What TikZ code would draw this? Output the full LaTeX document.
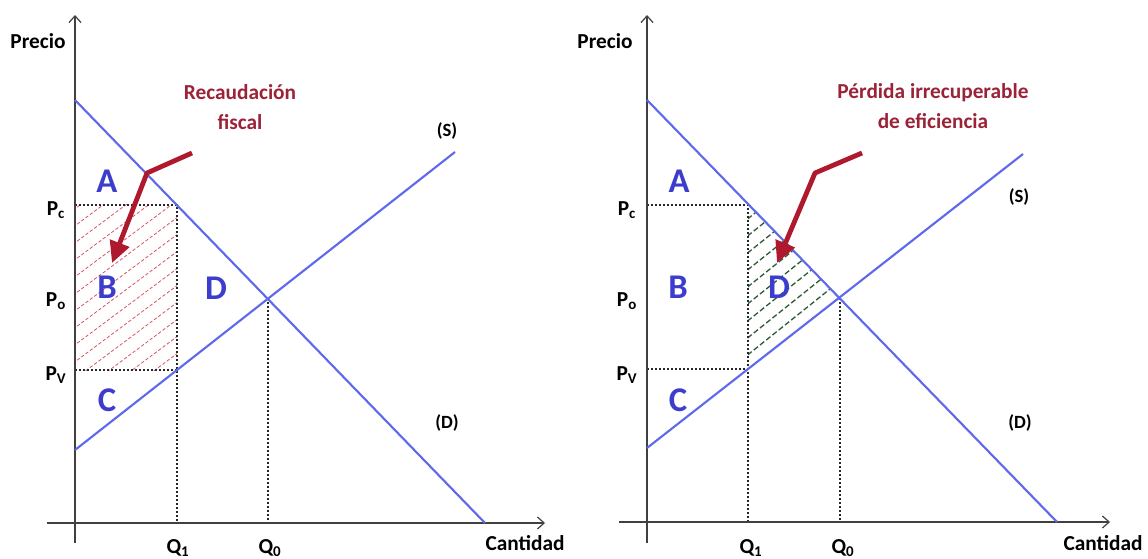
\documentclass[tikz,border=0pt]{standalone}
\usepackage{fontspec}
\setmainfont{Carlito}
\usetikzlibrary{arrows.meta}
\definecolor{lineblue}{RGB}{95,105,235}
\definecolor{letterblue}{RGB}{60,60,205}
\definecolor{notered}{RGB}{155,35,55}
\definecolor{arrowred}{RGB}{175,25,45}
\definecolor{hatchred}{RGB}{215,85,100}
\definecolor{hatchgreen}{RGB}{45,90,55}
\tikzset{
  axisline/.style={line width=0.9pt, draw=black!75, -{Straight Barb[length=5pt,width=9pt]}},
  curve/.style={draw=lineblue, line width=1.6pt},
  guide/.style={draw=black!85, line width=0.8pt, dash pattern=on 1.6pt off 1.4pt},
  lbl/.style={inner sep=0pt, font=\bfseries\fontsize{16}{18}\selectfont},
  small/.style={inner sep=0pt, font=\bfseries\fontsize{14}{16}\selectfont},
  area/.style={inner sep=0pt, text=letterblue, font=\bfseries\fontsize{26}{28}\selectfont},
  note/.style={inner sep=0pt, text=notered, align=center, font=\bfseries\fontsize{16}{22}\selectfont},
  pointer/.style={draw=arrowred, line width=3.6pt, line join=round, -{Triangle[length=16pt,width=15pt]}},
  hatchL/.style={draw=hatchred, line width=0.6pt, dash pattern=on 2.5pt off 1.5pt},
  hatchR/.style={draw=hatchgreen, line width=1pt, dash pattern=on 4pt off 2pt}
}
\begin{document}
\begin{tikzpicture}[x=0.75pt,y=-0.75pt]
\useasboundingbox (0,0) rectangle (1148,559);
% ================= LEFT PANEL =================
\coordinate (Lyb) at (75,543); \coordinate (Lyt) at (75,15);
\coordinate (Lxl) at (47,523); \coordinate (Lxr) at (545,523);
\coordinate (Ld0) at (75,100); \coordinate (Ld1) at (485,523);
\coordinate (Ls0) at (75,450); \coordinate (Ls1) at (455,152);
\coordinate (LE) at (268,298);
\coordinate (Lc) at (177,205); \coordinate (Lv) at (177,370);
\coordinate (Lpc) at (75,205); \coordinate (Lpv) at (75,370);
\coordinate (Lq1) at (177,523); \coordinate (Lq0) at (268,523);
\begin{scope}
  \clip (Lpc) rectangle (Lv);
  \foreach \k in {0,...,14} \draw[hatchL] (60,{220+17*\k}) -- ++(150,-112);
\end{scope}
\draw[guide] (Lpc) -- (Lc) -- (Lq1);
\draw[guide] (Lpv) -- (Lv);
\draw[guide] (LE) -- (Lq0);
\draw[axisline] (Lyb) -- (Lyt);
\draw[axisline] (Lxl) -- (Lxr);
\draw[curve] (Ld0) -- (Ld1);
\draw[curve] (Ls0) -- (Ls1);
\node[lbl] (LPrecio) at (38,41) {Precio};
\node[lbl] (LCant) at (525,543) {Cantidad};
\node[lbl] (LQ1) at (178,548) {Q\textsubscript{1}};
\node[lbl] (LQ0) at (270,548) {Q\textsubscript{0}};
\node[lbl] (LPc) at (56,210) {P\textsubscript{c}};
\node[lbl] (LPo) at (56,301) {P\textsubscript{o}};
\node[lbl] (LPv) at (56,375) {P\textsubscript{V}};
\node[area] (LA) at (107,181) {A};
\node[area] (LB) at (107,287) {B};
\node[area] (LC) at (107,400) {C};
\node[area] (LD) at (216,288) {D};
\node[small] (LS) at (447,131) {(S)};
\node[small] (LDd) at (447,423) {(D)};
\node[note] (LNote) at (240,107) {Recaudación\\fiscal};
\coordinate (La0) at (192,153); \coordinate (La1) at (147,173); \coordinate (La2) at (112,263);
\draw[pointer] (La0) -- (La1) -- (La2);
% ================= RIGHT PANEL =================
\coordinate (Ryb) at (647,543); \coordinate (Ryt) at (647,15);
\coordinate (Rxl) at (619,522); \coordinate (Rxr) at (1110,522);
\coordinate (Rd0) at (647,100); \coordinate (Rd1) at (1057,522);
\coordinate (Rs0) at (647,448); \coordinate (Rs1) at (1023,154);
\coordinate (RE) at (840,298);
\coordinate (Rc) at (748,205); \coordinate (Rv) at (748,369);
\coordinate (Rpc) at (647,205); \coordinate (Rpv) at (647,369);
\coordinate (Rq1) at (748,522); \coordinate (Rq0) at (840,522);
\begin{scope}
  \clip (Rc) -- (RE) -- (Rv) -- cycle;
  \foreach \k in {0,...,12} \draw[hatchR] (735,{212+17*\k}) -- ++(130,-104);
\end{scope}
\draw[guide] (Rpc) -- (Rc) -- (Rq1);
\draw[guide] (Rpv) -- (Rv);
\draw[guide] (RE) -- (Rq0);
\draw[axisline] (Ryb) -- (Ryt);
\draw[axisline] (Rxl) -- (Rxr);
\draw[curve] (Rd0) -- (Rd1);
\draw[curve] (Rs0) -- (Rs1);
\node[lbl] (RPrecio) at (605,41) {Precio};
\node[lbl] (RCant) at (1103,543) {Cantidad};
\node[lbl] (RQ1) at (751,548) {Q\textsubscript{1}};
\node[lbl] (RQ0) at (843,548) {Q\textsubscript{0}};
\node[lbl] (RPc) at (627,210) {P\textsubscript{c}};
\node[lbl] (RPo) at (627,301) {P\textsubscript{o}};
\node[lbl] (RPv) at (627,375) {P\textsubscript{V}};
\node[area] (RA) at (679,181) {A};
\node[area] (RB) at (678,287) {B};
\node[area] (RC) at (678,400) {C};
\node[area] (RD) at (779,287) {D};
\node[small] (RS) at (1019,197) {(S)};
\node[small] (RDd) at (1020,423) {(D)};
\node[note] (RNote) at (933,106) {Pérdida irrecuperable\\de eficiencia};
\coordinate (Ra0) at (862,153); \coordinate (Ra1) at (815,173); \coordinate (Ra2) at (777,263);
\draw[pointer] (Ra0) -- (Ra1) -- (Ra2);
\end{tikzpicture}
\end{document}
